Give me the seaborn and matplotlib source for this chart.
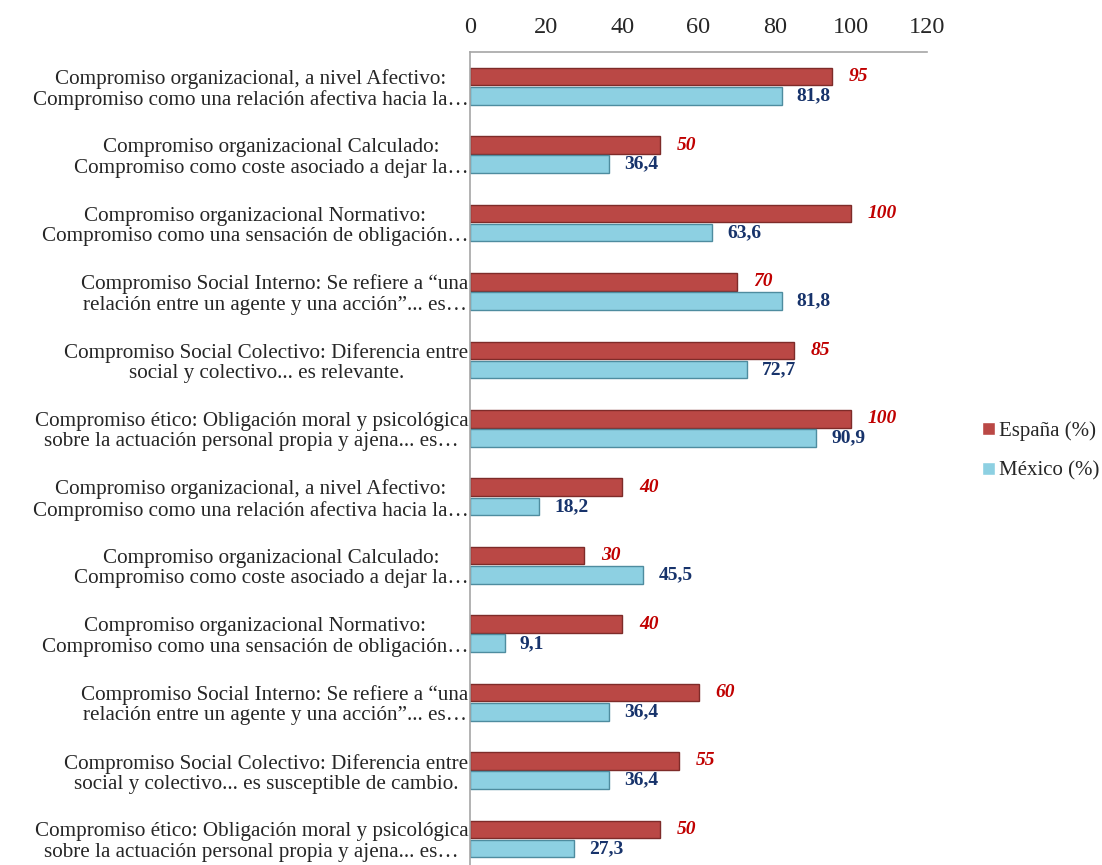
import pandas as pd
import seaborn as sns
import matplotlib.pyplot as plt

# data
items = [
    "Compromiso organizacional, a nivel Afectivo:\nCompromiso como una relación afectiva hacia la…",
    "Compromiso organizacional Calculado:\nCompromiso como coste asociado a dejar la…",
    "Compromiso organizacional Normativo:\nCompromiso como una sensación de obligación…",
    "Compromiso Social Interno: Se refiere a “una\nrelación entre un agente y una acción”... es…",
    "Compromiso Social Colectivo: Diferencia entre\nsocial y colectivo... es relevante.",
    "Compromiso ético: Obligación moral y psicológica\nsobre la actuación personal propia y ajena... es…",
    "Compromiso organizacional, a nivel Afectivo:\nCompromiso como una relación afectiva hacia la…",
    "Compromiso organizacional Calculado:\nCompromiso como coste asociado a dejar la…",
    "Compromiso organizacional Normativo:\nCompromiso como una sensación de obligación…",
    "Compromiso Social Interno: Se refiere a “una\nrelación entre un agente y una acción”... es…",
    "Compromiso Social Colectivo: Diferencia entre\nsocial y colectivo... es susceptible de cambio.",
    "Compromiso ético: Obligación moral y psicológica\nsobre la actuación personal propia y ajena... es…",
]
espana = [95, 50, 100, 70, 85, 100, 40, 30, 40, 60, 55, 50]
mexico = [81.8, 36.4, 63.6, 81.8, 72.7, 90.9, 18.2, 45.5, 9.1, 36.4, 36.4, 27.3]
series = ["España (%)", "México (%)"]
xticks = [0, 20, 40, 60, 80, 100, 120]

###
def prepareData():
    ids = ["i%02d" % i for i in range(len(items))]
    rows = []
    for i, key in enumerate(ids):
        rows.append({"item": key, "serie": series[0], "valor": espana[i]})
        rows.append({"item": key, "serie": series[1], "valor": mexico[i]})
    return pd.DataFrame(rows), ids


###
def plotChart(df, ids):
    sns.set_style("white")
    plt.rcParams['font.family'] = ['Liberation Serif', 'DejaVu Serif']

    fig = plt.figure(figsize=(11.02, 8.65), dpi=100)
    ax = fig.add_axes([470 / 1102, 0.0, (927 - 470) / 1102, (865 - 52) / 865])

    palette = {series[0]: "#BA4845", series[1]: "#8DD0E2"}
    sns.barplot(data=df, x="valor", y="item", hue="serie", order=ids,
                palette=palette, orient="h", width=0.56, gap=0.08,
                saturation=1, ax=ax)

    edges = {0: "#7E2B29", 1: "#4E8C9F"}
    for k, cont in enumerate(ax.containers):
        for bar in cont:
            bar.set_edgecolor(edges[k])
            bar.set_linewidth(1.0)

    # value labels
    ax.bar_label(ax.containers[0], labels=["%g" % v for v in espana],
                 padding=12, color="#C00000", fontsize=14,
                 fontweight="bold", fontstyle="italic")
    ax.bar_label(ax.containers[1],
                 labels=[("%g" % v).replace(".", ",") for v in mexico],
                 padding=11, color="#17336B", fontsize=14, fontweight="bold")

    ax.set_xlim(0, 120)
    ax.set_xticks(xticks)
    ax.xaxis.tick_top()
    ax.tick_params(axis="x", length=0, pad=10, labelsize=17.5)
    ax.tick_params(axis="y", length=0, pad=1, labelsize=15.2)
    ax.set_yticks(range(len(items)))
    ax.set_yticklabels(items, multialignment="center", linespacing=1.1)
    ax.set_ylim(11.38, -0.5)
    ax.set_xlabel("")
    ax.set_ylabel("")

    for side in ["right", "bottom"]:
        ax.spines[side].set_visible(False)
    for side in ["top", "left"]:
        ax.spines[side].set_color("#A6A6A6")
        ax.spines[side].set_linewidth(1.2)

    handles, labels = ax.get_legend_handles_labels()
    ax.get_legend().remove()
    fig.legend(handles, labels, loc="center left",
               bbox_to_anchor=(978 / 1102, 1 - 451 / 865),
               frameon=False, fontsize=15, handlelength=0.6, handleheight=0.6,
               handletextpad=0.2, labelspacing=1.0, borderaxespad=0,
               borderpad=0.2)

    fig.savefig("out.png", dpi=100)


###
if __name__ == '__main__':
    chartData, itemIds = prepareData()
    plotChart(chartData, itemIds)
